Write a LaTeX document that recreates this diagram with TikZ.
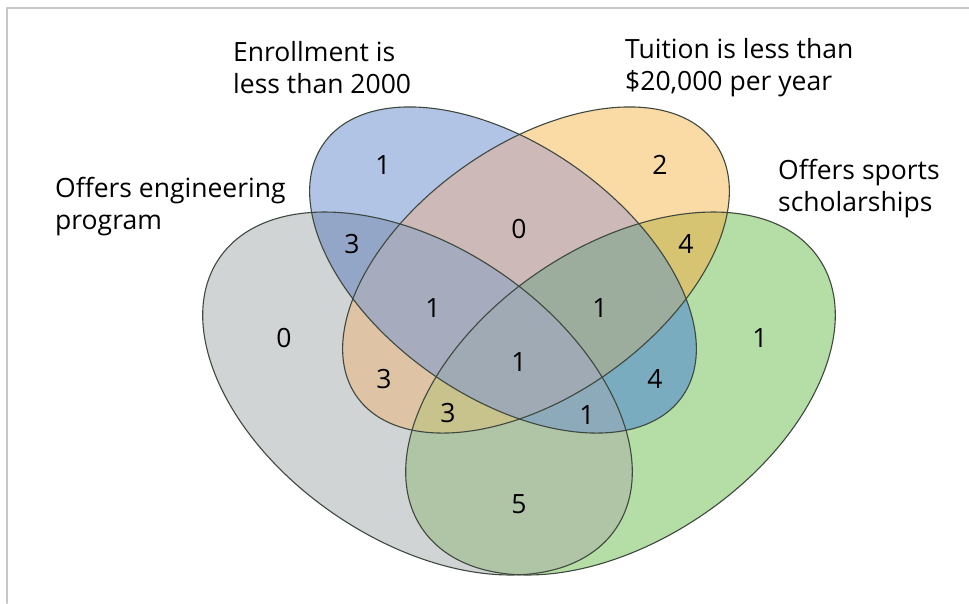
\documentclass[tikz,border=0pt]{standalone}
\usepackage{fontspec}
\setmainfont{Open Sans}
\usepackage{tikz}

% one colour for each region of the diagram
\definecolor{rB}{RGB}{178,196,230}
\definecolor{rO}{RGB}{250,218,165}
\definecolor{rG}{RGB}{208,212,212}
\definecolor{rS}{RGB}{180,222,165}
\definecolor{rBO}{RGB}{206,185,185}
\definecolor{rBG}{RGB}{148,166,200}
\definecolor{rBS}{RGB}{122,172,192}
\definecolor{rOG}{RGB}{222,196,165}
\definecolor{rOS}{RGB}{214,196,115}
\definecolor{rGS}{RGB}{176,196,166}
\definecolor{rBOG}{RGB}{166,171,190}
\definecolor{rBOS}{RGB}{156,172,157}
\definecolor{rBGS}{RGB}{140,170,186}
\definecolor{rOGS}{RGB}{200,194,140}
\definecolor{rBOGS}{RGB}{160,170,180}
\definecolor{rim}{RGB}{62,72,62}

% the four sets
\newcommand{\enrset}[1]{\path[#1, rotate around={-35.25:(503,270)}] (503,270) ellipse [x radius=219.4, y radius=125.8];}
\newcommand{\tuiset}[1]{\path[#1, rotate around={35.25:(536,270)}] (536,270) ellipse [x radius=219.4, y radius=125.8];}
\newcommand{\engset}[1]{\path[#1, rotate around={-34.3:(417.5,393.5)}] (417.5,393.5) ellipse [x radius=240, y radius=146.5];}
\newcommand{\spset}[1]{\path[#1, rotate around={34.3:(620.5,393.5)}] (620.5,393.5) ellipse [x radius=240, y radius=146.5];}

\begin{document}
\begin{tikzpicture}[x=1pt, y=-1pt,
			line join=round, line cap=round,
			every node/.style = {inner sep=0pt, font=\fontsize{26.5}{32}\selectfont},
			title/.style = {anchor=west, align=left},
			rimline/.style = {draw=rim, line width=1.1pt}
			]
			\useasboundingbox (0,0) rectangle (969,603);
			\draw[black!22, line width=2pt] (7,603) -- (7,8) -- (969,8);
			% single sets
			\spset{fill=rS}
			\engset{fill=rG}
			\enrset{fill=rB}
			\tuiset{fill=rO}
			% two sets
			\begin{scope} \enrset{clip} \tuiset{fill=rBO} \end{scope}
			\begin{scope} \enrset{clip} \engset{fill=rBG} \end{scope}
			\begin{scope} \enrset{clip} \spset{fill=rBS} \end{scope}
			\begin{scope} \tuiset{clip} \engset{fill=rOG} \end{scope}
			\begin{scope} \tuiset{clip} \spset{fill=rOS} \end{scope}
			\begin{scope} \engset{clip} \spset{fill=rGS} \end{scope}
			% three sets
			\begin{scope} \enrset{clip} \tuiset{clip} \engset{fill=rBOG} \end{scope}
			\begin{scope} \enrset{clip} \tuiset{clip} \spset{fill=rBOS} \end{scope}
			\begin{scope} \enrset{clip} \engset{clip} \spset{fill=rBGS} \end{scope}
			\begin{scope} \tuiset{clip} \engset{clip} \spset{fill=rOGS} \end{scope}
			% all four
			\begin{scope} \enrset{clip} \tuiset{clip} \engset{clip} \spset{fill=rBOGS} \end{scope}
			% outlines
			\spset{rimline}
			\engset{rimline}
			\enrset{rimline}
			\tuiset{rimline}
			% set titles
			\node[title] (enroll) at (233,68) {Enrollment is\\less than 2000};
			\node[title] (tuition) at (625,68) {Tuition is less than\\\$20,000 per year};
			\node[title] (engin) at (55,207) {Offers engineering\\program};
			\node[title] (sports) at (778,189) {Offers sports\\scholarships};
			% counts
			\node (b) at (383,165) {1};
			\node (o) at (660,165) {2};
			\node (bo) at (519,229) {0};
			\node (bg) at (352,244) {3};
			\node (os) at (686,244) {4};
			\node (bog) at (433,308) {1};
			\node (bos) at (600,308) {1};
			\node (g) at (284,338) {0};
			\node (s) at (760,338) {1};
			\node (bogs) at (519,362) {1};
			\node (og) at (384,379) {3};
			\node (bs) at (655,379) {4};
			\node (ogs) at (448,413) {3};
			\node (bgs) at (587,415) {1};
			\node (gs) at (519,504) {5};
\end{tikzpicture}
\end{document}
